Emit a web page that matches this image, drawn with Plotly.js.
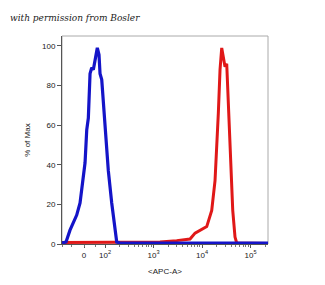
<!DOCTYPE html>
<html><head><meta charset="utf-8">
<script src="https://cdn.plot.ly/plotly-3.0.1.min.js"></script>
<style>body{margin:0;background:#fff}#c{width:325px;height:285px}</style>
</head><body><div id="c"></div>
<script>
// x in display units: biexponential-like scale, position in "decades" (10^2 -> 2, 10^5 -> 5, 0 -> 1.567)
const blueX = [1.113,1.196,1.278,1.416,1.485,1.588,1.623,1.656,1.691,1.726,1.759,1.794,1.841,1.876,1.897,1.932,2.0,2.068,2.138,2.206,2.241,2.309,5.36];
const blueY = [0.5,1,7,14.6,20.7,41,57.6,63.6,86,89,88,93,99,95.5,86,83,57.6,37,20.7,7,1,0.5,0.5];
const redX = [1.113,1.897,2.515,3.134,3.478,3.753,3.856,3.959,4.097,4.2,4.268,4.336,4.371,4.406,4.439,4.474,4.509,4.522,4.577,4.633,4.68,4.715,5.36];
const redY = [0.8,1,0.8,1,1.7,2.5,5.5,7,8.8,17,32,66,88,99,93,89.5,91,84,49,17,3.5,0.5,0.3];
const xTickVals = [1.567,2,3,4,5];
const xTickText = ["0","10<sup>2</sup>","10<sup>3</sup>","10<sup>4</sup>","10<sup>5</sup>"];
const minorVals = [1.113,1.3,1.567,1.8,2.3,2.48,2.6,2.7,2.78,2.85,2.9,2.95,3.3,3.48,3.6,3.7,3.78,3.85,3.9,3.95,4.3,4.48,4.6,4.7,4.78,4.85,4.9,4.95,5.3];
const yTickVals = [0,20,40,60,80,100];

const font = {family:"Liberation Sans, Arial", size:8, color:"#222"};
Plotly.newPlot("c", [
  {x: redX, y: redY, type:"scatter", mode:"lines", line:{color:"#e01818", width:3}, hoverinfo:"skip"},
  {x: blueX, y: blueY, type:"scatter", mode:"lines", line:{color:"#1414c8", width:3.2}, hoverinfo:"skip"},
  {x: [], y: [], xaxis:"x2", type:"scatter"}
], {
  width:325, height:285,
  margin:{l:62, r:57, t:36, b:41},
  paper_bgcolor:"#fff", plot_bgcolor:"#fff",
  showlegend:false,
  xaxis:{range:[1.113,5.36], tickmode:"array", tickvals:xTickVals, ticktext:xTickText,
    ticks:"outside", ticklen:3, tickcolor:"#555", showgrid:false, zeroline:false,
    showline:true, linecolor:"#555", linewidth:1, tickfont:font,
    title:{text:"<APC-A>", font:font, standoff:9}},
  xaxis2:{overlaying:"x", range:[1.113,5.36], tickmode:"array", tickvals:minorVals,
    showticklabels:false, ticks:"outside", ticklen:2, tickcolor:"#777",
    showgrid:false, zeroline:false, showline:false, side:"bottom", anchor:"y"},
  yaxis:{range:[0,105], tickmode:"array", tickvals:yTickVals, ticks:"outside", ticklen:4,
    tickcolor:"#555", showgrid:false, zeroline:false, showline:true, linecolor:"#555",
    linewidth:1, tickfont:font, title:{text:"% of Max", font:font, standoff:10}},
  shapes:[{type:"rect", xref:"paper", yref:"paper", x0:0, x1:1, y0:0, y1:1,
    line:{color:"#aaa", width:1}, layer:"below"}],
  annotations:[{text:"<i>with permission from Bosler</i>", xref:"paper", yref:"paper",
    x:-0.262, y:1.087, xanchor:"left", yanchor:"middle", showarrow:false,
    font:{family:"DejaVu Serif", size:9, color:"#222"}}]
}, {staticPlot:true});
</script></body></html>
